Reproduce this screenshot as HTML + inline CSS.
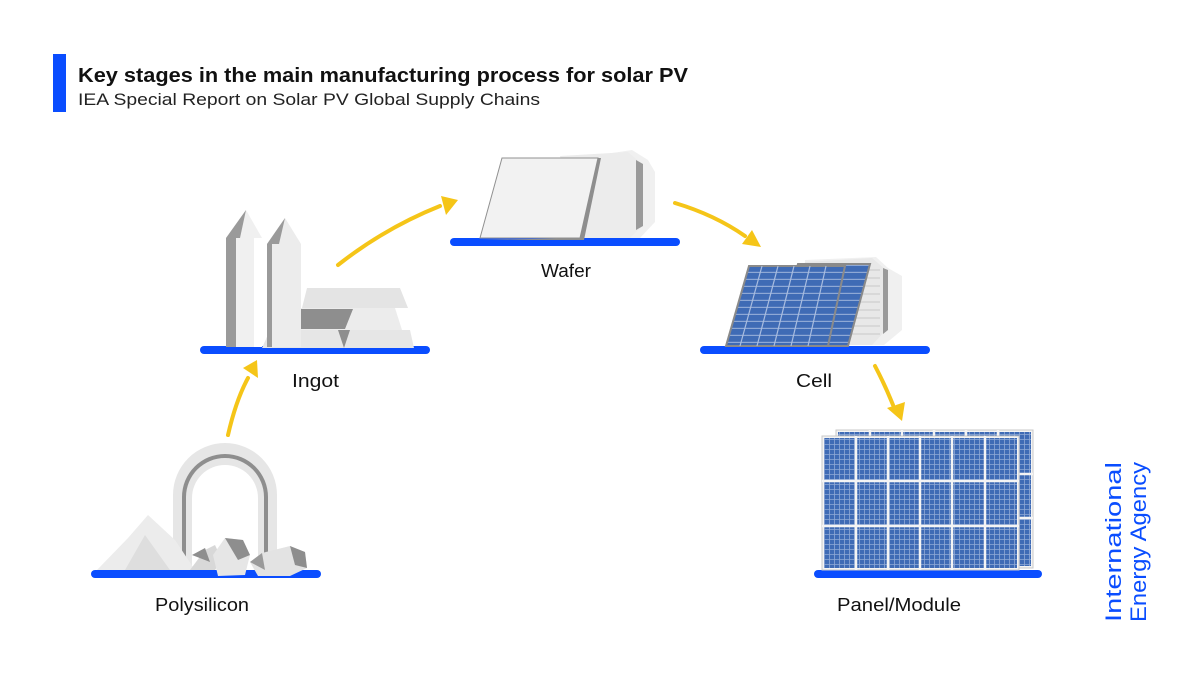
<!DOCTYPE html>
<html><head><meta charset="utf-8"><style>
html,body{margin:0;padding:0;background:#fff}
svg{display:block}
text{font-family:"Liberation Sans",sans-serif}
</style></head><body>
<svg width="1200" height="675" viewBox="0 0 1200 675" xmlns="http://www.w3.org/2000/svg">
<defs>
<pattern id="cellgrid" width="5" height="5" patternUnits="userSpaceOnUse">
<rect width="5" height="5" fill="#3f6bb5"/>
<path d="M0 4.5H5M4.5 0V5" stroke="#8fa9d6" stroke-width="0.8"/>
</pattern>
<pattern id="cellstripe" width="10" height="7" patternUnits="userSpaceOnUse">
<rect width="10" height="7" fill="#3f6bb5"/>
<path d="M0 6.3H10" stroke="#a9bde0" stroke-width="0.9"/>
</pattern>
</defs>

<!-- header -->
<rect x="53" y="54" width="13" height="58" fill="#0a4dff"/>
<text x="78" y="82" font-size="20" font-weight="bold" fill="#111" textLength="610" lengthAdjust="spacingAndGlyphs">Key stages in the main manufacturing process for solar PV</text>
<text x="78" y="105" font-size="17" fill="#222" textLength="462" lengthAdjust="spacingAndGlyphs">IEA Special Report on Solar PV Global Supply Chains</text>

<!-- arrows -->
<g fill="none" stroke="#f5c518" stroke-width="4" stroke-linecap="round">
<path d="M228 435 Q236 400 248 378"/>
<path d="M338 265 Q385 228 440 206"/>
<path d="M675 203 Q715 215 745 236"/>
<path d="M875 366 Q885 385 893 405"/>
</g>
<g fill="#f5c518">
<path d="M243 368 L257 360 L258 378 Z"/>
<path d="M458 200 L441 196 L446 215 Z"/>
<path d="M761 247 L752 230 L742 244 Z"/>
<path d="M902 421 L887 408 L905 402 Z"/>
</g>

<!-- platforms -->
<g stroke="#0a4dff" stroke-width="8" stroke-linecap="round">
<line x1="95" y1="574" x2="317" y2="574"/>
<line x1="204" y1="350" x2="426" y2="350"/>
<line x1="454" y1="242" x2="676" y2="242"/>
<line x1="704" y1="350" x2="926" y2="350"/>
<line x1="818" y1="574" x2="1038" y2="574"/>
</g>

<!-- labels -->
<g font-size="18" fill="#111" lengthAdjust="spacingAndGlyphs">
<text x="155" y="611" textLength="94" lengthAdjust="spacingAndGlyphs">Polysilicon</text>
<text x="292" y="387" textLength="47" lengthAdjust="spacingAndGlyphs">Ingot</text>
<text x="541" y="277" textLength="50" lengthAdjust="spacingAndGlyphs">Wafer</text>
<text x="796" y="387" textLength="36" lengthAdjust="spacingAndGlyphs">Cell</text>
<text x="837" y="611" textLength="124" lengthAdjust="spacingAndGlyphs">Panel/Module</text>
</g>

<!-- IEA -->
<g fill="#0a4dff" font-size="22" transform="rotate(-90)">
<text x="-622" y="1121" textLength="160" lengthAdjust="spacingAndGlyphs">International</text>
<text x="-622" y="1146" textLength="160" lengthAdjust="spacingAndGlyphs">Energy Agency</text>
</g>

<!-- Polysilicon -->
<g>
<path d="M173 570 V495 A52 52 0 0 1 277 495 V570 H258 V498 A33 33 0 0 0 192 498 V570 Z" fill="#e6e6e6"/>
<path d="M182 570 V497 A43 43 0 0 1 268 497 V570 H264 V497 A39 39 0 0 0 186 497 V570 Z" fill="#8e8e8e"/>
<path d="M97 570 L128 538 L148 515 L175 540 L195 570 Z" fill="#ececec"/>
<path d="M125 570 L145 535 L170 570 Z" fill="#dedede"/>
<path d="M190 570 L205 550 L215 545 L222 560 L215 570 Z" fill="#d8d8d8"/>
<path d="M192 555 L205 548 L210 562 Z" fill="#8e8e8e"/>
<path d="M213 555 L225 538 L243 540 L250 555 L245 575 L218 576 Z" fill="#e6e6e6"/>
<path d="M225 538 L243 540 L250 555 L238 560 Z" fill="#8e8e8e"/>
<path d="M250 562 L262 553 L290 546 L305 552 L307 568 L290 576 L258 576 Z" fill="#e3e3e3"/>
<path d="M290 546 L305 552 L307 568 L295 565 Z" fill="#8e8e8e"/>
<path d="M250 562 L262 553 L265 570 Z" fill="#9a9a9a"/>
</g>

<!-- Ingot -->
<g>
<path d="M262 348 L270 330 H410 L414 348 Z" fill="#e6e6e6"/>
<path d="M338 330 L350 330 L344 348 Z" fill="#8e8e8e"/>
<path d="M280 330 L292 308 H395 L402 330 Z" fill="#ececec"/>
<path d="M286 329 L297 309 H353 L345 329 Z" fill="#8e8e8e"/>
<path d="M302 308 L307 288 H400 L408 308 Z" fill="#e4e4e4"/>
<path d="M226 238 L246 210 L262 238 V347 H226 Z" fill="#f0f0f0"/>
<path d="M226 238 L246 210 L240 238 Z M226 238 H236 V347 H226 Z" fill="#9a9a9a"/>
<path d="M254 238 H262 V347 H254 Z" fill="#ffffff"/>
<path d="M267 244 L285 218 L301 244 V347 H267 Z" fill="#ececec"/>
<path d="M267 244 L285 218 L279 244 Z M267 244 H272 V347 H267 Z" fill="#9a9a9a"/>
</g>

<!-- Wafer -->
<g>
<path d="M566 160 L632 150 L648 160 L655 172 V222 L640 238 H585 Z" fill="#f0f0f0"/>
<path d="M560 156 L628 152 L642 164 V226 L630 238 H580 Z" fill="#ececec"/>
<path d="M636 160 L643 164 V226 L636 230 Z" fill="#9a9a9a"/>
<path d="M480 238 L502 158 H598 L580 238 Z" fill="#f2f2f2" stroke="#909090" stroke-width="1"/>
<path d="M580 238 L598 158 H601 L584 240 H480 Z" fill="#8e8e8e"/>
</g>

<!-- Cell -->
<g>
<path d="M805 260 L876 257 L888 268 L902 276 V330 L884 345 H800 Z" fill="#f0f0f0"/>
<path d="M805 262 L872 258 L886 270 V330 L872 345 H800 Z" fill="#e8e8e8"/>
<g stroke="#c8c8c8" stroke-width="0.9">
<line x1="820" y1="270" x2="880" y2="270"/><line x1="818" y1="278" x2="880" y2="278"/><line x1="816" y1="286" x2="880" y2="286"/><line x1="814" y1="294" x2="880" y2="294"/><line x1="812" y1="302" x2="880" y2="302"/><line x1="810" y1="310" x2="880" y2="310"/><line x1="808" y1="318" x2="880" y2="318"/><line x1="806" y1="326" x2="880" y2="326"/><line x1="804" y1="334" x2="880" y2="334"/>
</g>
<path d="M883 268 L888 270 V330 L883 334 Z" fill="#9a9a9a"/>
<path d="M775 346 L798 264 H870 L848 346 Z" fill="url(#cellstripe)" stroke="#8a8a8a" stroke-width="2"/>
<path d="M726 346 L749 266 H845 L828 346 Z" fill="url(#cellstripe)" stroke="#8a8a8a" stroke-width="2"/>
<g stroke="#a9bde0" stroke-width="1.2">
<line x1="762" y1="266" x2="740" y2="346"/><line x1="778" y1="266" x2="757" y2="346"/><line x1="794" y1="266" x2="774" y2="346"/><line x1="810" y1="266" x2="791" y2="346"/><line x1="826" y1="266" x2="808" y2="346"/>
</g>
</g>

<!-- Panel -->
<g>
<rect x="836" y="430" width="197" height="138" fill="#f4f4f4" stroke="#c8c8c8"/>
<rect x="838" y="432" width="193" height="134" fill="url(#cellgrid)"/>
<g stroke="#f4f4f4" stroke-width="2.5">
<line x1="870" y1="430" x2="870" y2="568"/><line x1="902" y1="430" x2="902" y2="568"/><line x1="934" y1="430" x2="934" y2="568"/><line x1="966" y1="430" x2="966" y2="568"/><line x1="998" y1="430" x2="998" y2="568"/>
<line x1="836" y1="474" x2="1033" y2="474"/><line x1="836" y1="518" x2="1033" y2="518"/>
</g>
<rect x="822" y="436" width="197" height="134" fill="#f4f4f4" stroke="#c8c8c8"/>
<rect x="824" y="438" width="193" height="130" fill="url(#cellgrid)"/>
<g stroke="#f4f4f4" stroke-width="2.5">
<line x1="856" y1="436" x2="856" y2="570"/><line x1="888" y1="436" x2="888" y2="570"/><line x1="920" y1="436" x2="920" y2="570"/><line x1="952" y1="436" x2="952" y2="570"/><line x1="985" y1="436" x2="985" y2="570"/>
<line x1="822" y1="481" x2="1019" y2="481"/><line x1="822" y1="526" x2="1019" y2="526"/>
</g>
</g>
</svg>
</body></html>
